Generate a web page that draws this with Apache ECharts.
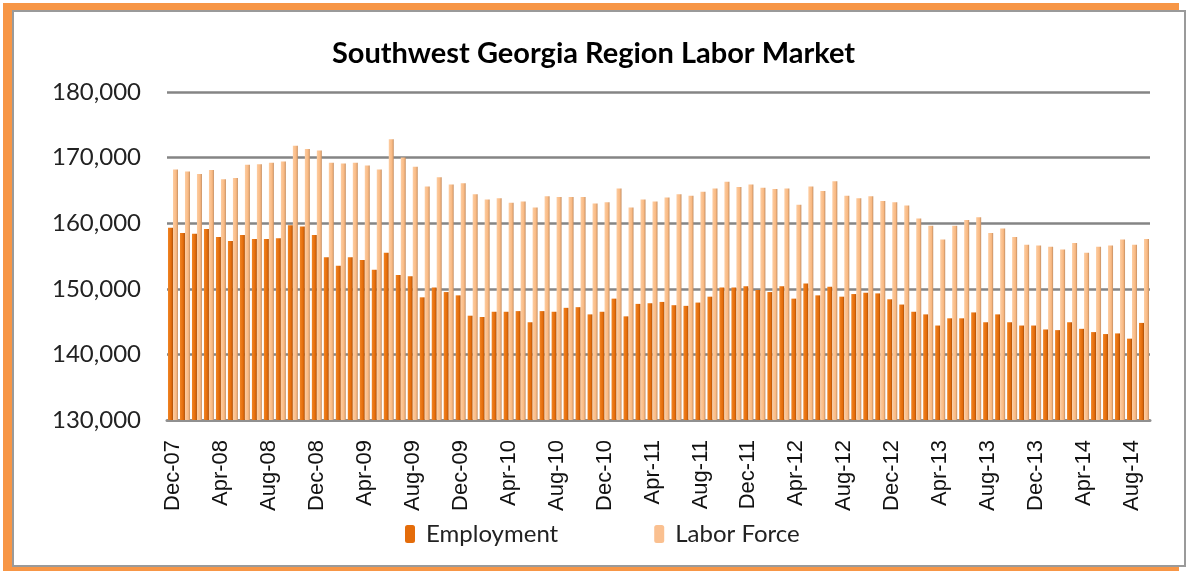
<!DOCTYPE html>
<html>
<head>
<meta charset="utf-8">
<script src="https://cdn.jsdelivr.net/npm/echarts@6/dist/echarts.min.js"></script>
<style>
  html, body { margin: 0; padding: 0; background: #fff; }
  #chart { width: 1187px; height: 571px; }
</style>
</head>
<body>
<div id="chart"></div>
<script>
// monthly, Dec-07 .. Sep-14
var months = ['Dec-07','Jan-08','Feb-08','Mar-08','Apr-08','May-08','Jun-08','Jul-08','Aug-08','Sep-08','Oct-08','Nov-08',
  'Dec-08','Jan-09','Feb-09','Mar-09','Apr-09','May-09','Jun-09','Jul-09','Aug-09','Sep-09','Oct-09','Nov-09',
  'Dec-09','Jan-10','Feb-10','Mar-10','Apr-10','May-10','Jun-10','Jul-10','Aug-10','Sep-10','Oct-10','Nov-10',
  'Dec-10','Jan-11','Feb-11','Mar-11','Apr-11','May-11','Jun-11','Jul-11','Aug-11','Sep-11','Oct-11','Nov-11',
  'Dec-11','Jan-12','Feb-12','Mar-12','Apr-12','May-12','Jun-12','Jul-12','Aug-12','Sep-12','Oct-12','Nov-12',
  'Dec-12','Jan-13','Feb-13','Mar-13','Apr-13','May-13','Jun-13','Jul-13','Aug-13','Sep-13','Oct-13','Nov-13',
  'Dec-13','Jan-14','Feb-14','Mar-14','Apr-14','May-14','Jun-14','Jul-14','Aug-14','Sep-14'];

var employment = [159300,158500,158400,159100,157900,157300,158200,157600,157600,157700,159700,159500,
  158200,154800,153500,154800,154400,152900,155500,152100,151900,148700,150200,149500,
  149000,145900,145700,146500,146500,146600,144900,146600,146500,147100,147200,146100,
  146500,148500,145800,147700,147800,148000,147500,147400,147900,148800,150200,150200,
  150400,149800,149500,150400,148500,150800,149000,150300,148800,149200,149400,149300,
  148400,147600,146500,146100,144400,145500,145500,146400,144900,146100,144900,144400,
  144400,143800,143700,144900,143900,143400,143100,143200,142400,144800];

var laborForce = [168200,167900,167500,168100,166700,166900,168900,169000,169200,169400,171800,171300,
  171100,169200,169100,169200,168800,168200,172800,170000,168600,165600,167000,165900,
  166100,164400,163600,163800,163100,163300,162400,164100,164000,164000,164000,163000,
  163200,165300,162400,163600,163300,163900,164400,164200,164800,165300,166300,165500,
  165900,165400,165200,165300,162800,165600,164900,166400,164200,163800,164100,163400,
  163200,162700,160700,159600,157500,159600,160500,160900,158500,159200,157900,156700,
  156600,156400,156000,157000,155500,156400,156600,157500,156700,157600];

var chart = echarts.init(document.getElementById('chart'));

function barFill(light, mid, dark) {
    return new echarts.graphic.LinearGradient(0, 0, 1, 0, [
        { offset: 0, color: light },
        { offset: 0.65, color: mid },
        { offset: 1, color: dark }
    ]);
}

chart.setOption({
    animation: false,
    graphic: [
        { type: 'rect', z: -10, shape: { x: 3, y: 3, width: 1176, height: 568 }, style: { fill: '#F79646' } },
        { type: 'rect', z: -9, shape: { x: 13, y: 11, width: 1172, height: 555 },
          style: { fill: '#fff', stroke: '#9a9a9a', lineWidth: 2 } }
    ],
    title: {
        text: 'Southwest Georgia Region Labor Market',
        left: 'center',
        top: 34,
        textStyle: { fontFamily: 'Lato', fontWeight: 'bold', fontSize: 29, color: '#000' }
    },
    legend: {
        bottom: 20,
        left: 400,
        itemGap: 96,
        itemWidth: 10,
        itemHeight: 18,
        textStyle: { fontFamily: 'Lato', fontSize: 24, color: '#222', padding: [0, 0, 0, 6] },
        data: [
            { name: 'Employment', itemStyle: { color: '#E46C0A' } },
            { name: 'Labor Force', itemStyle: { color: '#FAC090' } }
        ]
    },
    grid: { left: 167, right: 37, top: 92, bottom: 151 },
    xAxis: {
        type: 'category',
        data: months,
        axisLine: { lineStyle: { color: '#909090', width: 3 } },
        axisTick: { show: false },
        axisLabel: {
            interval: 3,
            rotate: 90,
            margin: 20,
            fontFamily: 'Liberation Sans',
            fontSize: 22,
            color: '#111'
        }
    },
    yAxis: {
        type: 'value',
        min: 130000,
        max: 180000,
        interval: 10000,
        axisLine: { show: false },
        axisTick: { show: false },
        splitLine: { lineStyle: { color: '#858585', width: 2.5 } },
        axisLabel: {
            margin: 26,
            fontFamily: 'Lato',
            fontSize: 24,
            color: '#222',
            formatter: function (v) { return v.toLocaleString('en-US'); }
        }
    },
    series: [
        {
            name: 'Employment',
            type: 'bar',
            barWidth: 5,
            barGap: '0%',
            data: employment,
            itemStyle: { color: barFill('#F08424', '#E46C0A', '#A84E08') }
        },
        {
            name: 'Labor Force',
            type: 'bar',
            barWidth: 5,
            data: laborForce,
            itemStyle: { color: barFill('#FDCDA2', '#F9B982', '#C48E62') }
        }
    ]
});
</script>
</body>
</html>
